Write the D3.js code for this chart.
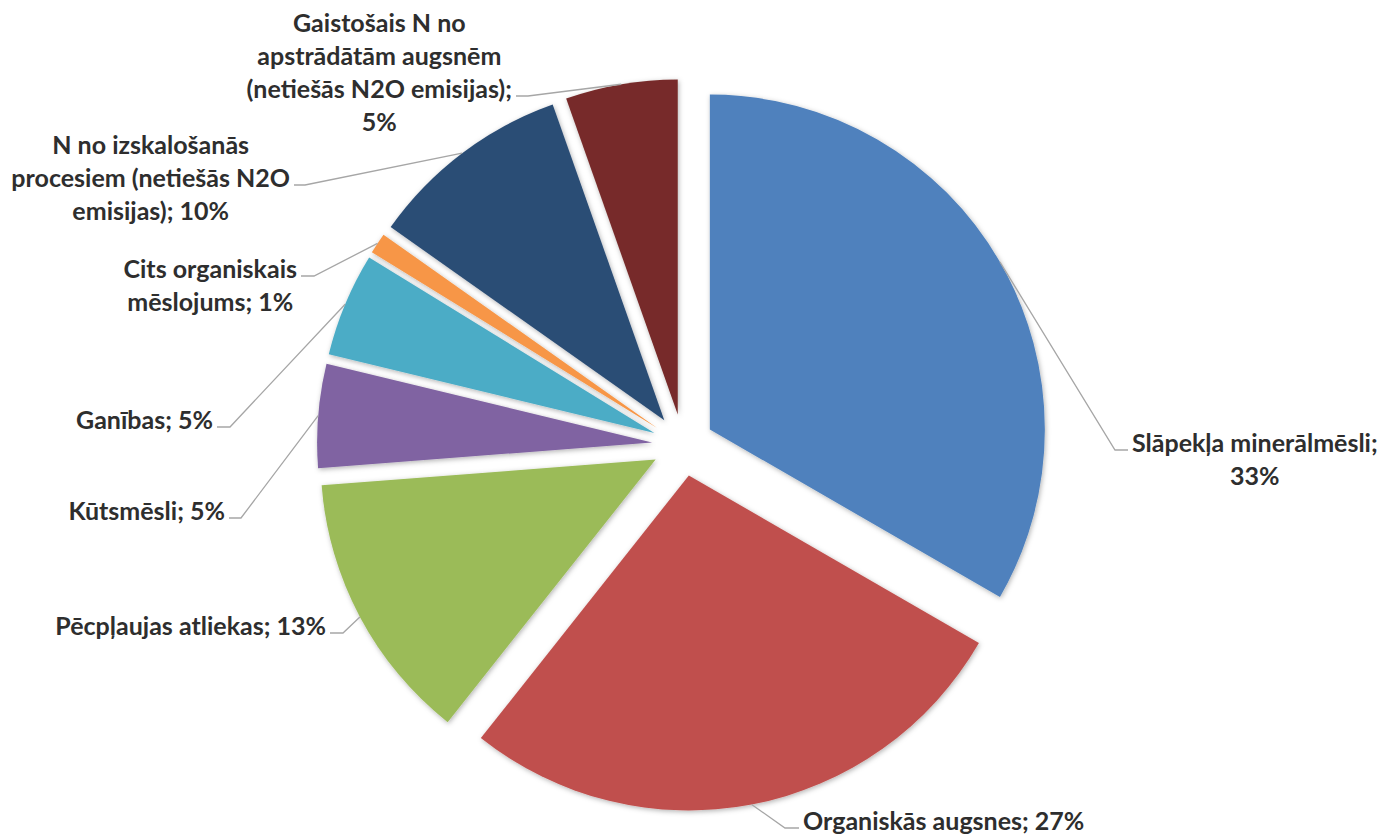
<!DOCTYPE html>
<html lang="lv">
<head>
  <meta charset="UTF-8">
  <title>N2O emisiju avoti</title>
  <script src="https://cdn.jsdelivr.net/npm/d3@7"></script>
  <style>
    html, body { margin: 0; padding: 0; background: #fff; }
    svg { display: block; }
    .lbl { font-family: Lato, "Open Sans", sans-serif; font-weight: 700; fill: #2e2e2e; }
  </style>
</head>
<body>
<svg id="chart"></svg>
<script>
  const categories = [
    'Slāpekļa minerālmēsli',
    'Organiskās augsnes',
    'Pēcpļaujas atliekas',
    'Kūtsmēsli',
    'Ganības',
    'Cits organiskais mēslojums',
    'N no izskalošanās procesiem (netiešās N2O emisijas)',
    'Gaistošais N no apstrādātām augsnēm (netiešās N2O emisijas)'
  ];
  const shares = [33.3, 27.3, 13.1, 5.0, 5.0, 1.0, 9.8, 5.4];
  const colors = ['#4F81BD', '#C0504D', '#9BBB59', '#8064A2', '#4BACC6', '#F79646', '#2C4D75', '#772C2A'];

  // label placement (leader elbow, end of the short horizontal part, words per line)
  const labelLayout = [
    {side: 'right', ex: 1115, ey: 450, hx: 1128, k: 0, words: [2, 1]},
    {side: 'right', ex: 785, ey: 828, hx: 799, k: 0, words: [4]},
    {side: 'left', ex: 343, ey: 633, hx: 330, k: 0, words: [4]},
    {side: 'left', ex: 241, ey: 518, hx: 229, k: 0, words: [3]},
    {side: 'left', ex: 230, ey: 427, hx: 217, k: 0, words: [2]},
    {side: 'left', ex: 314, ey: 276, hx: 301, k: 0, words: [2, 2]},
    {side: 'left', ex: 305, ey: 185, hx: 294, k: 1, words: [3, 3, 2]},
    {side: 'left', ex: 528, ey: 96, hx: 516, k: 2, words: [3, 2, 3, 1]}
  ];

  const width = 1388, height = 838;
  const cx = 683, cy = 445, radius = 335, explode = 31;
  const fontSize = 25, lineH = 33;

  const svg = d3.select('#chart').attr('width', width).attr('height', height);

  const defs = svg.append('defs');
  defs.append('filter')
    .attr('id', 'shadow')
    .attr('x', '-10%').attr('y', '-10%').attr('width', '120%').attr('height', '120%')
    .append('feDropShadow')
    .attr('dx', 1).attr('dy', 1.5)
    .attr('stdDeviation', 2.5)
    .attr('flood-color', '#000')
    .attr('flood-opacity', 0.3);

  const total = d3.sum(shares);
  const pie = d3.pie().sort(null).value(d => d);
  const arcs = pie(shares);
  const arc = d3.arc().innerRadius(0).outerRadius(radius);

  const dir = a => [Math.sin(a), -Math.cos(a)];

  const g = svg.append('g').attr('transform', `translate(${cx},${cy})`);

  g.selectAll('path.slice')
    .data(arcs)
    .join('path')
    .attr('class', 'slice')
    .attr('transform', d => {
      const [ux, uy] = dir((d.startAngle + d.endAngle) / 2);
      return `translate(${ux * explode},${uy * explode})`;
    })
    .attr('d', arc)
    .attr('fill', (d, i) => colors[i])
    .attr('filter', 'url(#shadow)');

  // leader lines
  svg.append('g')
    .selectAll('polyline')
    .data(arcs)
    .join('polyline')
    .attr('fill', 'none')
    .attr('stroke', '#a6a6a6')
    .attr('stroke-width', 1.3)
    .attr('points', (d, i) => {
      const L = labelLayout[i];
      const [ux, uy] = dir((d.startAngle + d.endAngle) / 2);
      const sx = cx + ux * (explode + radius);
      const sy = cy + uy * (explode + radius);
      return [[sx, sy], [L.ex, L.ey], [L.hx, L.ey]].map(p => p.join(',')).join(' ');
    });

  // labels
  const labels = svg.append('g');
  arcs.forEach((d, i) => {
    const L = labelLayout[i];
    const pct = Math.round(shares[i] / total * 100) + '%';
    const words = (categories[i] + '; ' + pct).split(' ');
    const lines = [];
    let p = 0;
    L.words.forEach(n => { lines.push(words.slice(p, p + n).join(' ')); p += n; });

    const t = labels.append('text')
      .attr('class', 'lbl')
      .attr('font-size', fontSize)
      .attr('text-anchor', 'middle');
    const spans = lines.map((s, j) => t.append('tspan')
      .attr('y', L.ey + 2 + (j - L.k) * lineH)
      .text(s));
    const w = d3.max(spans, s => s.node().getComputedTextLength());
    const mid = L.side === 'left' ? L.hx - 4 - w / 2 : L.hx + 4 + w / 2;
    spans.forEach(s => s.attr('x', mid));
  });
</script>
</body>
</html>
